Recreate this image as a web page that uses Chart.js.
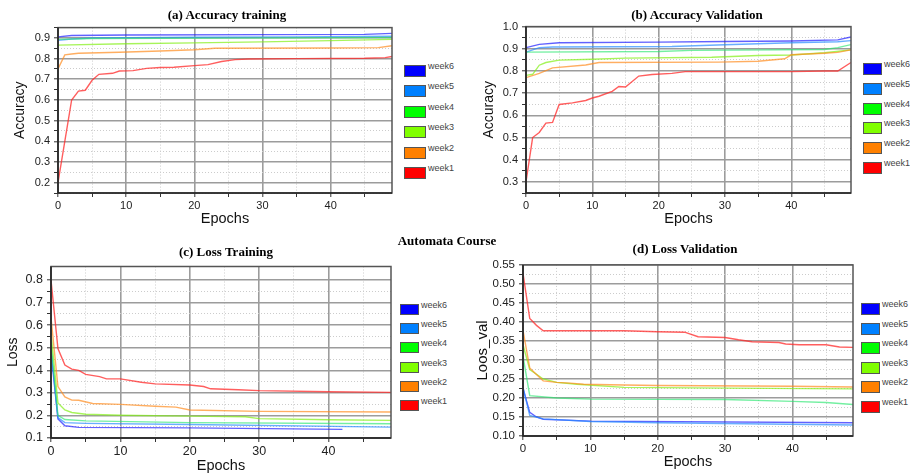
<!DOCTYPE html>
<html>
<head>
<meta charset="utf-8">
<script src="https://cdn.jsdelivr.net/npm/chart.js@4.4.1/dist/chart.umd.min.js"></script>
<style>
  body { margin: 0; background: #fff; overflow: hidden; }
  #wrap { position: relative; width: 910px; height: 473px; }
  canvas { position: absolute; }
  .title {
    position: absolute; transform: translateX(-50%); white-space: nowrap;
    font-family: "Liberation Serif", "Times New Roman", serif; font-weight: bold;
    font-size: 13px; line-height: 15px; color: #000;
  }
  .box { position: absolute; border: 1px solid #555; box-sizing: border-box; }
  .lab {
    position: absolute; font-family: "Liberation Sans", Arial, sans-serif;
    font-size: 9px; line-height: 10px; color: #444;
  }
</style>
</head>
<body>
<div id="wrap"></div>
<script>
// series names and colours (week1 .. week6)
const weekLabels = ["week1", "week2", "week3", "week4", "week5", "week6"];
const weekColors = ["#ff0000", "#ff8000", "#80ff00", "#00ff00", "#0080ff", "#0000ff"];
const lineColors = ["rgba(255,40,40,0.75)", "rgba(255,140,30,0.7)", "rgba(130,240,20,0.7)",
                    "rgba(40,230,110,0.65)", "rgba(40,140,255,0.7)", "rgba(30,30,255,0.7)"];

// [epoch, value] pairs, one list per week
const accTrain = [
  [[0,0.20],[2,0.60],[3,0.643],[4,0.647],[5,0.695],[6,0.724],[8,0.729],[9,0.74],[11,0.742],[13,0.753],[15,0.757],[17,0.758],[20,0.766],[22,0.771],[24,0.786],[26,0.795],[28,0.798],[35,0.80],[45,0.802],[48,0.805],[49,0.81]],
  [[0,0.75],[1,0.818],[2,0.822],[3,0.826],[9,0.831],[15,0.837],[20,0.843],[23,0.85],[40,0.851],[47,0.853],[49,0.862]],
  [[0,0.865],[10,0.872],[20,0.876],[30,0.881],[40,0.887],[49,0.893]],
  [[0,0.893],[5,0.897],[25,0.899],[49,0.902]],
  [[0,0.888],[2,0.895],[5,0.90],[20,0.903],[35,0.905],[49,0.908]],
  [[0,0.905],[2,0.912],[10,0.914],[30,0.916],[45,0.917],[49,0.922]]
];
const accVal = [
  [[0,0.30],[1,0.50],[2,0.523],[3,0.565],[4,0.568],[5,0.649],[7,0.656],[9,0.667],[10,0.678],[11,0.686],[13,0.708],[14,0.73],[15,0.728],[17,0.777],[19,0.784],[22,0.789],[24,0.797],[30,0.797],[40,0.797],[45,0.80],[47,0.80],[49,0.838]],
  [[0,0.77],[2,0.789],[4,0.814],[9,0.827],[11,0.838],[29,0.84],[35,0.844],[39,0.855],[40,0.873],[45,0.88],[47,0.884],[49,0.895]],
  [[0,0.78],[1,0.785],[2,0.826],[3,0.838],[5,0.849],[10,0.853],[15,0.858],[28,0.862],[35,0.87],[40,0.872],[45,0.882],[49,0.895]],
  [[0,0.885],[20,0.888],[25,0.893],[45,0.897],[47,0.905],[49,0.919]],
  [[0,0.885],[2,0.905],[4,0.908],[22,0.91],[30,0.918],[40,0.927],[47,0.932],[49,0.937]],
  [[0,0.905],[2,0.92],[5,0.927],[20,0.93],[30,0.933],[40,0.935],[47,0.94],[49,0.953]]
];
const lossTrain = [
  [[0,0.80],[1,0.496],[2,0.423],[3,0.405],[4,0.40],[5,0.382],[7,0.372],[8,0.362],[10,0.362],[13,0.347],[15,0.34],[20,0.335],[22,0.328],[23,0.318],[27,0.314],[30,0.31],[40,0.305],[49,0.302]],
  [[0,0.634],[1,0.328],[2,0.282],[3,0.268],[4,0.267],[6,0.253],[10,0.249],[15,0.241],[18,0.237],[20,0.224],[30,0.218],[49,0.215]],
  [[0,0.565],[1,0.255],[2,0.224],[3,0.213],[5,0.205],[10,0.201],[20,0.197],[28,0.194],[30,0.186],[40,0.181],[49,0.178]],
  [[0,0.52],[1,0.20],[2,0.182],[5,0.176],[20,0.168],[49,0.163]],
  [[0,0.50],[1,0.19],[2,0.168],[5,0.165],[20,0.16],[49,0.148]],
  [[0,0.48],[1,0.185],[2,0.154],[4,0.147],[20,0.145],[42,0.138]]
];
const lossVal = [
  [[0,0.528],[1,0.409],[2,0.391],[3,0.377],[15,0.377],[20,0.374],[24,0.373],[26,0.361],[30,0.359],[32,0.353],[34,0.348],[38,0.346],[39,0.342],[41,0.34],[45,0.34],[47,0.334],[49,0.333]],
  [[0,0.378],[1,0.279],[2,0.262],[3,0.245],[5,0.241],[7,0.239],[9,0.236],[15,0.234],[20,0.233],[40,0.231],[49,0.229]],
  [[0,0.34],[1,0.275],[3,0.25],[5,0.241],[8,0.236],[15,0.228],[30,0.226],[49,0.224]],
  [[0,0.31],[1,0.206],[5,0.20],[10,0.197],[30,0.196],[40,0.191],[45,0.188],[49,0.183]],
  [[0,0.228],[1,0.154],[3,0.145],[10,0.138],[20,0.135],[49,0.129]],
  [[0,0.225],[1,0.162],[2,0.15],[3,0.144],[10,0.139],[49,0.135]]
];

const FONT = "'Liberation Sans', Arial, sans-serif";

// layout of each panel: plot box [left, top, right, bottom] in page pixels
const panels = [
  { title: "(a) Accuracy training", titleAt: [227, 14], data: accTrain,
    yTitle: "Accuracy", yMin: 0.15, yMax: 0.95, yStep: 0.05, yMajor: 0.1, dec: 1,
    plot: [58, 25, 392, 193], yW: 58, xH: 35, yTitlePad: 12, yTitleSize: 14, tickSize: 11,
    legend: { x: 404, y: 65, w: 22, h: 12, gap: 20.4 } },
  { title: "(b) Accuracy Validation", titleAt: [697, 14], data: accVal,
    yTitle: "Accuracy", yMin: 0.25, yMax: 1.0, yStep: 0.05, yMajor: 0.1, dec: 1,
    plot: [526, 24, 851, 193], yW: 66, xH: 35, yTitlePad: 21, yTitleSize: 14, tickSize: 11,
    legend: { x: 863, y: 63, w: 19, h: 12, gap: 19.8 } },
  { title: "(c) Loss Training", titleAt: [226, 251], data: lossTrain,
    yTitle: "Loss", yMin: 0.1, yMax: 0.86, yStep: 0.05, yMajor: 0.1, dec: 1,
    plot: [51, 263, 391, 438], yW: 51, xH: 37, yTitlePad: 5, yTitleSize: 14, tickSize: 12.5,
    legend: { x: 400, y: 304, w: 19, h: 11, gap: 19.2 } },
  { title: "(d) Loss Validation", titleAt: [685, 248], data: lossVal,
    yTitle: "Loos_val", yMin: 0.1, yMax: 0.55, yStep: 0.025, yMajor: 0.05, dec: 2,
    plot: [523, 262, 853, 436], yW: 70, xH: 35, yTitlePad: 21, yTitleSize: 15, tickSize: 11.5,
    legend: { x: 861, y: 303, w: 19, h: 12, gap: 19.6 } }
];

const PAD_T = 8, PAD_R = 6;
const wrap = document.getElementById("wrap");

const isMultiple = (v, s) => Math.abs(v / s - Math.round(v / s)) < 1e-6;
const gridColor = (c, major) => !c.tick ? "#444" : (isMultiple(c.tick.value, major) ? "#9c9c9c" : "#cccccc");
const gridWidth = (c, major) => !c.tick ? 1 : (isMultiple(c.tick.value, major) ? 1.6 : 1);
const gridDash = (c, major) => !c.tick ? [] : (isMultiple(c.tick.value, major) ? [] : [1, 2]);

// outer frame round the plot area
const frame = {
  id: "frame",
  afterDraw(chart) {
    const { ctx, chartArea: a } = chart;
    ctx.save();
    ctx.strokeStyle = "#555";
    ctx.lineWidth = 1.5;
    ctx.strokeRect(a.left, a.top, a.right - a.left, a.bottom - a.top);
    // left and bottom axis lines are darker
    ctx.strokeStyle = "#222";
    ctx.beginPath();
    ctx.moveTo(a.left, a.top);
    ctx.lineTo(a.left, a.bottom);
    ctx.lineTo(a.right, a.bottom);
    ctx.stroke();
    ctx.restore();
  }
};

const addText = (cls, text, x, y) => {
  const el = document.createElement("div");
  el.className = cls;
  el.textContent = text;
  el.style.left = x + "px";
  el.style.top = y + "px";
  wrap.appendChild(el);
  return el;
};

panels.forEach((p) => {
  const [L, T, R, B] = p.plot;
  const canvas = document.createElement("canvas");
  const w = R - L + p.yW + PAD_R;
  const h = B - T + PAD_T + p.xH;
  canvas.width = w;
  canvas.height = h;
  canvas.style.left = (L - p.yW) + "px";
  canvas.style.top = (T - PAD_T) + "px";
  wrap.appendChild(canvas);

  new Chart(canvas, {
    type: "line",
    data: {
      datasets: p.data.map((pts, i) => ({
        label: weekLabels[i],
        data: pts.map(([x, y]) => ({ x, y })),
        borderColor: lineColors[i],
        borderWidth: 1.4,
        pointRadius: 0,
        tension: 0,
        fill: false
      }))
    },
    options: {
      responsive: false,
      animation: false,
      devicePixelRatio: 1,
      layout: { padding: { top: PAD_T, right: PAD_R, left: 0, bottom: 0 } },
      plugins: { legend: { display: false }, tooltip: { enabled: false } },
      scales: {
        x: {
          type: "linear", min: 0, max: 49,
          afterBuildTicks: (s) => { s.ticks = s.ticks.filter((t) => isMultiple(t.value, 5)); },
          afterFit: (s) => { s.height = p.xH; },
          ticks: {
            stepSize: 5, autoSkip: false, maxRotation: 0, padding: 2, color: "#222",
            font: { family: FONT, size: p.tickSize },
            callback: (v) => isMultiple(v, 10) ? String(Math.round(v)) : ""
          },
          grid: {
            color: (c) => gridColor(c, 10), lineWidth: (c) => gridWidth(c, 10),
            tickColor: "#333", tickLength: 4, tickWidth: 1
          },
          border: { display: false, dash: (c) => gridDash(c, 10) },
          title: {
            display: true, text: "Epochs", color: "#111",
            font: { family: FONT, size: 14.5 }, padding: { top: 0, bottom: 0 }
          }
        },
        y: {
          type: "linear", min: p.yMin, max: p.yMax,
          afterBuildTicks: (s) => { s.ticks = s.ticks.filter((t) => isMultiple(t.value, p.yStep)); },
          afterFit: (s) => { s.width = p.yW; },
          ticks: {
            stepSize: p.yStep, autoSkip: false, padding: 4, color: "#222",
            font: { family: FONT, size: p.tickSize },
            callback: (v) => isMultiple(v, p.yMajor) ? v.toFixed(p.dec) : ""
          },
          grid: {
            color: (c) => gridColor(c, p.yMajor), lineWidth: (c) => gridWidth(c, p.yMajor),
            tickColor: "#333", tickLength: 4, tickWidth: 1
          },
          border: { display: false, dash: (c) => gridDash(c, p.yMajor) },
          title: {
            display: true, text: p.yTitle, color: "#111",
            font: { family: FONT, size: p.yTitleSize }, padding: { top: p.yTitlePad, bottom: 0 }
          }
        }
      }
    },
    plugins: [frame]
  });

  // panel title
  addText("title", p.title, p.titleAt[0], p.titleAt[1] - 7.5);

  // legend, week6 on top
  const lg = p.legend;
  for (let k = 0; k < weekLabels.length; k++) {
    const i = weekLabels.length - 1 - k;
    const top = lg.y + k * lg.gap;
    const box = document.createElement("div");
    box.className = "box";
    box.style.left = lg.x + "px";
    box.style.top = top + "px";
    box.style.width = lg.w + "px";
    box.style.height = lg.h + "px";
    box.style.background = weekColors[i];
    wrap.appendChild(box);
    addText("lab", weekLabels[i], lg.x + lg.w + 2, top - 4);
  }
});

addText("title", "Automata Course", 447, 240 - 7.5);
</script>
</body>
</html>
